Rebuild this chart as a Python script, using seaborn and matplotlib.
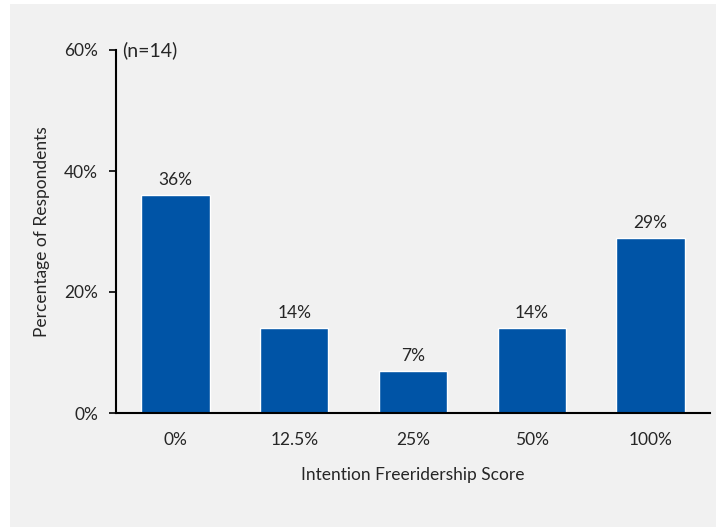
import matplotlib
matplotlib.use("Agg")
import matplotlib.pyplot as plt
from matplotlib.patches import Rectangle
from matplotlib.ticker import FuncFormatter
import seaborn as sns
import pandas as pd

# Survey results: share of respondents by intention freeridership score
scores = ["0%", "12.5%", "25%", "50%", "100%"]
percentages = [36, 14, 7, 14, 29]
y_ticks = [0, 20, 40, 60]
sample_note = "(n=14)"

df = pd.DataFrame({"score": scores, "pct": percentages})

sns.set_theme(style="white")
plt.rcParams["font.family"] = ["Lato", "DejaVu Sans"]

W, H = 716, 527
fig = plt.figure(figsize=(W / 100, H / 100), dpi=100, facecolor="white")
# light grey panel behind the chart
fig.patches.append(Rectangle((10 / W, 0), (W - 10) / W, (H - 4) / H,
                             transform=fig.transFigure, facecolor="#f1f1f1",
                             edgecolor="none", zorder=-10))

ax = fig.add_axes([116 / W, (H - 413) / H, (710 - 116) / W, (413 - 50) / H])
ax.set_facecolor("none")

bar_color = "#0054a6"
sns.barplot(data=df, x="score", y="pct", color=bar_color, saturation=1,
            width=0.575, ax=ax, zorder=2)

ax.set_ylim(0, 60)
ax.set_xlim(-0.5, len(scores) - 0.5)
ax.set_yticks(y_ticks)
ax.yaxis.set_major_formatter(FuncFormatter(lambda v, _: f"{v:.0f}%"))

for s in ["top", "right"]:
    ax.spines[s].set_visible(False)
for s in ["left", "bottom"]:
    ax.spines[s].set_color("black")
    ax.spines[s].set_linewidth(1.5)

fs = 12.5
text_color = "#262626"
ax.tick_params(axis="y", left=True, length=5, width=1.2, color="black",
               pad=8, labelsize=fs, labelcolor=text_color)
ax.tick_params(axis="x", bottom=False, pad=7.5, labelsize=fs,
               labelcolor=text_color)

ax.set_xlabel("Intention Freeridership Score", fontsize=fs,
              color=text_color, labelpad=14)
ax.set_ylabel("Percentage of Respondents", fontsize=fs,
              color=text_color, labelpad=10)

for i, v in enumerate(percentages):
    ax.annotate(f"{v}%", (i, v), xytext=(0, 5), textcoords="offset points",
                ha="center", va="bottom", fontsize=fs, color=text_color)

ax.text(0.01, 1.0, sample_note, transform=ax.transAxes, ha="left",
        va="center", fontsize=14, color=text_color)

fig.savefig("out.png", dpi=100, facecolor="white")
